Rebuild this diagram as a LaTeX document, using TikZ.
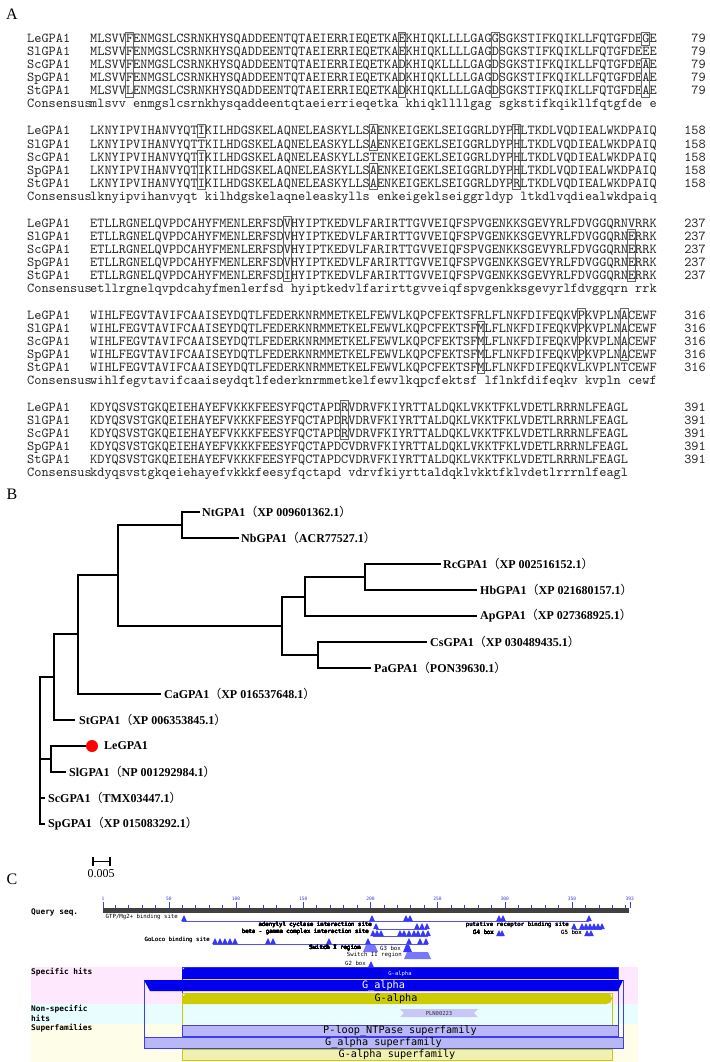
\documentclass[tikz,border=0pt]{standalone}
\usepackage{fontspec}
\setmainfont{Liberation Serif}
\newfontfamily\seqf{lmmono10-regular.otf}
\newfontfamily\cddf{DejaVu Sans Mono}
\newfontfamily\cjk{Noto Sans CJK SC}
\definecolor{pinkb}{RGB}{253,232,253}
\definecolor{cyanb}{RGB}{232,253,253}
\definecolor{yelb}{RGB}{253,253,232}
\definecolor{hitblue}{RGB}{0,0,238}
\definecolor{bfc}{RGB}{60,60,240}
\definecolor{lav}{RGB}{184,184,248}
\definecolor{oliv}{RGB}{204,204,0}
\definecolor{ltyel}{RGB}{240,240,176}
\definecolor{plnc}{RGB}{200,200,248}
\definecolor{trib}{RGB}{55,55,250}
\definecolor{regb}{RGB}{120,120,255}
\definecolor{ftline}{RGB}{80,80,255}
\newcommand\tl[2]{#1{\cjk\mdseries （}#2{\cjk\mdseries ）}}
\newcommand\arow[5]{%
  \node[seqtxt] (nm#1) at (27,{#2+4}) {#3};
  \node[seqtxt] (sq#1) at (90,{#2+4}) {#4};
  \node[numtxt] (nb#1) at (706,{#2+4}) {#5};}
\newcommand\crow[3]{%
  \node[seqtxt] (nm#1) at (27,{#2+4}) {Consensus};
  \node[seqtxt] (sq#1) at (90,{#2+4}) {#3};}
\newcommand\bx[4]{\draw[alnbox] ({90+(#2-1)*7.17-0.3},{#1+13*#3-6.5}) rectangle ({90+#2*7.17+0.3},{#1+13*#4+6.5});}
\newcommand\tri[2]{\fill[trib] ({#1-2.8},#2) -- (#1,{#2-6}) -- ({#1+2.8},#2) -- cycle;}
\newcommand\reg[3]{\fill[regb] (#1,#3) -- ({#1+3},{#3-7}) -- ({#2-3},{#3-7}) -- (#2,#3) -- cycle;}
\tikzset{
  seqtxt/.style={anchor=base west, inner sep=0pt, font={\seqf\fontsize{13.66pt}{13pt}\selectfont}, text=black!85},
  numtxt/.style={anchor=base east, inner sep=0pt, font={\seqf\fontsize{13.66pt}{13pt}\selectfont}, text=black!85},
  alnbox/.style={draw=black!60, line width=0.6pt},
  br/.style={line width=1.6pt, line join=miter},
  leaf/.style={anchor=west, inner sep=0pt, font={\bfseries\fontsize{12pt}{12pt}\selectfont}},
  plab/.style={inner sep=0pt, font={\fontsize{16pt}{16pt}\selectfont}},
  ft/.style={inner sep=0pt, anchor=east, font={\cddf\fontsize{5.7pt}{6pt}\selectfont}},
  lab/.style={inner sep=0pt, anchor=west, font={\cddf\bfseries\fontsize{7.8pt}{8pt}\selectfont}},
  rulnum/.style={inner sep=0pt, text=bfc, font={\cddf\fontsize{4.6pt}{5pt}\selectfont}},
  rul/.style={draw=bfc, line width=0.5pt},
  ftl/.style={draw=ftline, line width=0.7pt},
  barw/.style={inner sep=0pt, text=white, font={\cddf\fontsize{10.2pt}{10pt}\selectfont}},
  bark/.style={inner sep=0pt, text=black, font={\cddf\fontsize{10.2pt}{10pt}\selectfont}},
  tinyw/.style={inner sep=0pt, text=white, font={\cddf\fontsize{5.5pt}{6pt}\selectfont}},
  tinyk/.style={inner sep=0pt, text=black!80, font={\cddf\fontsize{5.5pt}{6pt}\selectfont}},
}
\begin{document}
\begin{tikzpicture}[x=1pt,y=-1pt]
\useasboundingbox (0,0) rectangle (709,1062);
\fill[white] (0,0) rectangle (709,1062);
% ---------------- Panel A
\node[plab] (pA) at (12,14) {A};
% block 1
\arow{1a}{39}{LeGPA1}{MLSVVFENMGSLCSRNKHYSQADDEENTQTAEIERRIEQETKAEKHIQKLLLLGAGGSGKSTIFKQIKLLFQTGFDEGE}{79}
\arow{1b}{52}{SlGPA1}{MLSVVFENMGSLCSRNKHYSQADDEENTQTAEIERRIEQETKAEKHIQKLLLLGAGDSGKSTIFKQIKLLFQTGFDEEE}{79}
\arow{1c}{65}{ScGPA1}{MLSVVFENMGSLCSRNKHYSQADDEENTQTAEIERRIEQETKADKHIQKLLLLGAGDSGKSTIFKQIKLLFQTGFDEAE}{79}
\arow{1d}{78}{SpGPA1}{MLSVVFENMGSLCSRNKHYSQADDEENTQTAEIERRIEQETKADKHIQKLLLLGAGDSGKSTIFKQIKLLFQTGFDEAE}{79}
\arow{1e}{91}{StGPA1}{MLSVVLENMGSLCSRNKHYSQADDEENTQTAEIERRIEQETKADKHIQKLLLLGAGDSGKSTIFKQIKLLFQTGFDEAE}{79}
\crow{1f}{104}{mlsvv enmgslcsrnkhysqaddeentqtaeierrieqetka khiqkllllgag sgkstifkqikllfqtgfde e}
\bx{39}{6}{0}{4}\bx{39}{44}{0}{4}\bx{39}{57}{0}{4}\bx{39}{78}{0}{0}\bx{39}{78}{2}{4}
% block 2
\arow{2a}{131}{LeGPA1}{LKNYIPVIHANVYQTIKILHDGSKELAQNELEASKYLLSAENKEIGEKLSEIGGRLDYPHLTKDLVQDIEALWKDPAIQ}{158}
\arow{2b}{144}{SlGPA1}{LKNYIPVIHANVYQTTKILHDGSKELAQNELEASKYLLSAENKEIGEKLSEIGGRLDYPHLTKDLVQDIEALWKDPAIQ}{158}
\arow{2c}{157}{ScGPA1}{LKNYIPVIHANVYQTIKILHDGSKELAQNELEASKYLLSTENKEIGEKLSEIGGRLDYPHLTKDLVQDIEALWKDPAIQ}{158}
\arow{2d}{170}{SpGPA1}{LKNYIPVIHANVYQTIKILHDGSKELAQNELEASKYLLSAENKEIGEKLSEIGGRLDYPHLTKDLVQDIEALWKDPAIQ}{158}
\arow{2e}{183}{StGPA1}{LKNYIPVIHANVYQTIKILHDGSKELAQNELEASKYLLSAENKEIGEKLSEIGGRLDYPRLTKDLVQDIEALWKDPAIQ}{158}
\crow{2f}{196}{lknyipvihanvyqt kilhdgskelaqneleaskylls enkeigeklseiggrldyp ltkdlvqdiealwkdpaiq}
\bx{131}{16}{0}{0}\bx{131}{16}{2}{4}\bx{131}{40}{0}{1}\bx{131}{40}{3}{4}\bx{131}{60}{0}{4}
% block 3
\arow{3a}{223}{LeGPA1}{ETLLRGNELQVPDCAHYFMENLERFSDVHYIPTKEDVLFARIRTTGVVEIQFSPVGENKKSGEVYRLFDVGGQRNVRRK}{237}
\arow{3b}{236}{SlGPA1}{ETLLRGNELQVPDCAHYFMENLERFSDVHYIPTKEDVLFARIRTTGVVEIQFSPVGENKKSGEVYRLFDVGGQRNERRK}{237}
\arow{3c}{249}{ScGPA1}{ETLLRGNELQVPDCAHYFMENLERFSDVHYIPTKEDVLFARIRTTGVVEIQFSPVGENKKSGEVYRLFDVGGQRNERRK}{237}
\arow{3d}{262}{SpGPA1}{ETLLRGNELQVPDCAHYFMENLERFSDVHYIPTKEDVLFARIRTTGVVEIQFSPVGENKKSGEVYRLFDVGGQRNERRK}{237}
\arow{3e}{275}{StGPA1}{ETLLRGNELQVPDCAHYFMENLERFSDIHYIPTKEDVLFARIRTTGVVEIQFSPVGENKKSGEVYRLFDVGGQRNERRK}{237}
\crow{3f}{288}{etllrgnelqvpdcahyfmenlerfsd hyiptkedvlfarirttgvveiqfspvgenkksgevyrlfdvggqrn rrk}
\bx{223}{28}{0}{4}\bx{223}{76}{1}{4}
% block 4
\arow{4a}{315}{LeGPA1}{WIHLFEGVTAVIFCAAISEYDQTLFEDERKNRMMETKELFEWVLKQPCFEKTSFRLFLNKFDIFEQKVPKVPLNACEWF}{316}
\arow{4b}{328}{SlGPA1}{WIHLFEGVTAVIFCAAISEYDQTLFEDERKNRMMETKELFEWVLKQPCFEKTSFMLFLNKFDIFEQKVPKVPLNACEWF}{316}
\arow{4c}{341}{ScGPA1}{WIHLFEGVTAVIFCAAISEYDQTLFEDERKNRMMETKELFEWVLKQPCFEKTSFMLFLNKFDIFEQKVPKVPLNACEWF}{316}
\arow{4d}{354}{SpGPA1}{WIHLFEGVTAVIFCAAISEYDQTLFEDERKNRMMETKELFEWVLKQPCFEKTSFMLFLNKFDIFEQKVPKVPLNACEWF}{316}
\arow{4e}{367}{StGPA1}{WIHLFEGVTAVIFCAAISEYDQTLFEDERKNRMMETKELFEWVLKQPCFEKTSFMLFLNKFDIFEQKVLKVPLNTCEWF}{316}
\crow{4f}{380}{wihlfegvtavifcaaiseydqtlfederknrmmetkelfewvlkqpcfektsf lflnkfdifeqkv kvpln cewf}
\bx{315}{55}{1}{4}\bx{315}{69}{0}{3}\bx{315}{75}{0}{3}
% block 5
\arow{5a}{407}{LeGPA1}{KDYQSVSTGKQEIEHAYEFVKKKFEESYFQCTAPDRVDRVFKIYRTTALDQKLVKKTFKLVDETLRRRNLFEAGL}{391}
\arow{5b}{420}{SlGPA1}{KDYQSVSTGKQEIEHAYEFVKKKFEESYFQCTAPDRVDRVFKIYRTTALDQKLVKKTFKLVDETLRRRNLFEAGL}{391}
\arow{5c}{433}{ScGPA1}{KDYQSVSTGKQEIEHAYEFVKKKFEESYFQCTAPDRVDRVFKIYRTTALDQKLVKKTFKLVDETLRRRNLFEAGL}{391}
\arow{5d}{446}{SpGPA1}{KDYQSVSTGKQEIEHAYEFVKKKFEESYFQCTAPDCVDRVFKIYRTTALDQKLVKKTFKLVDETLRRRNLFEAGL}{391}
\arow{5e}{459}{StGPA1}{KDYQSVSTGKQEIEHAYEFVKKKFEESYFQCTAPDCVDRVFKIYRTTALDQKLVKKTFKLVDETLRRRNLFEAGL}{391}
\crow{5f}{472}{kdyqsvstgkqeiehayefvkkkfeesyfqctapd vdrvfkiyrttaldqklvkktfklvdetlrrrnlfeagl}
\bx{407}{36}{0}{2}
% ---------------- Panel B
\node[plab] (pB) at (12,494) {B};
\coordinate (nNtNb) at (182,525);
\coordinate (nRcHb) at (365,577);
\coordinate (nRHA) at (305,597);
\coordinate (nCsPa) at (318,655);
\coordinate (nBig) at (282,626);
\coordinate (nA) at (118,575);
\coordinate (nB) at (78,634);
\coordinate (nC) at (54,677);
\coordinate (nLeSl) at (51,759);
\coordinate (nD) at (40,750);
\coordinate (eNt) at (200,512);
\coordinate (eNb) at (239,538);
\coordinate (eRc) at (441,564);
\coordinate (eHb) at (477,590);
\coordinate (eAp) at (477,616);
\coordinate (eCs) at (427,642);
\coordinate (ePa) at (371,668);
\coordinate (eCa) at (161,694);
\coordinate (eSt) at (75,720);
\coordinate (eSl) at (66,772);
\coordinate (eSc) at (45,798);
\coordinate (eSp) at (45,824);
\node[circle, fill=red, inner sep=0pt, minimum size=12pt] (dLe) at (92,746) {};
\node[leaf] (lNt) at (202,512) {\tl{NtGPA1}{XP 009601362.1}};
\node[leaf] (lNb) at (241,538) {\tl{NbGPA1}{ACR77527.1}};
\node[leaf] (lRc) at (443,564) {\tl{RcGPA1}{XP 002516152.1}};
\node[leaf] (lHb) at (480,590) {\tl{HbGPA1}{XP 021680157.1}};
\node[leaf] (lAp) at (480,616) {\tl{ApGPA1}{XP 027368925.1}};
\node[leaf] (lCs) at (430,642) {\tl{CsGPA1}{XP 030489435.1}};
\node[leaf] (lPa) at (374,668) {\tl{PaGPA1}{PON39630.1}};
\node[leaf] (lCa) at (164,694) {\tl{CaGPA1}{XP 016537648.1}};
\node[leaf] (lSt) at (79,720) {\tl{StGPA1}{XP 006353845.1}};
\node[leaf] (lLe) at (104,746) {LeGPA1};
\node[leaf] (lSl) at (69,772) {\tl{SlGPA1}{NP 001292984.1}};
\node[leaf] (lSc) at (48,798) {\tl{ScGPA1}{TMX03447.1}};
\node[leaf] (lSp) at (48,824) {\tl{SpGPA1}{XP 015083292.1}};
\draw[br] (nNtNb) |- (eNt);
\draw[br] (nNtNb) |- (eNb);
\draw[br] (nRcHb) |- (eRc);
\draw[br] (nRcHb) |- (eHb);
\draw[br] (nRHA) |- (nRcHb);
\draw[br] (nRHA) |- (eAp);
\draw[br] (nCsPa) |- (eCs);
\draw[br] (nCsPa) |- (ePa);
\draw[br] (nBig) |- (nRHA);
\draw[br] (nBig) |- (nCsPa);
\draw[br] (nA) |- (nNtNb);
\draw[br] (nA) |- (nBig);
\draw[br] (nB) |- (nA);
\draw[br] (nB) |- (eCa);
\draw[br] (nC) |- (nB);
\draw[br] (nC) |- (eSt);
\draw[br] (nLeSl) |- (dLe.west);
\draw[br] (nLeSl) |- (eSl);
\draw[br] (nD) |- (nC);
\draw[br] (nD) |- (nLeSl);
\draw[br] (nD) |- (eSc);
\draw[br] (nD) |- (eSp);
% scale bar
\coordinate (sbL) at (93,861.5);
\coordinate (sbR) at (110,861.5);
\draw[line width=1.4pt] (sbL) -- (sbR);
\draw[line width=1.4pt] ([yshift=4.5pt]sbL) -- ([yshift=-4.5pt]sbL);
\draw[line width=1.4pt] ([yshift=4.5pt]sbR) -- ([yshift=-4.5pt]sbR);
\node[inner sep=0pt, font={\fontsize{12pt}{12pt}\selectfont}] (sbT) at (101,874) {0.005};
% ---------------- Panel C
\node[plab] (pC) at (12,879) {C};
\node[lab] (qs) at (31,912) {Query seq.};
\fill[black!75] (103,908) rectangle (629.3,913);
\foreach \u in {10,20,...,390} \draw[rul] ({103+(\u-1)*1.3438},904.5) -- ++(0,3.5);
\foreach \u in {1,50,100,150,200,250,300,350,393} {
  \draw[rul] ({103+(\u-1)*1.3438},902) -- ++(0,6);
  \node[rulnum] (r\u) at ({103+(\u-1)*1.3438},898.5) {\u};
}
% row 1
\node[ft] (fGTP) at (178,917) {GTP/Mg2+ binding site};
\draw[ftl] (182,921) -- (589,921);
\foreach \p in {184,372,406,410,499,503,589} \tri{\p}{921}
% row 2
\node[ft] (fAC) at (372,925) {adenylyl cyclase interaction site};
\draw[ftl] (376,929) -- (427,929);
\foreach \p in {376,417,422,427} \tri{\p}{929}
\node[ft] (fPR) at (569,925) {putative receptor binding site};
\draw[ftl] (574,929) -- (602,929);
\foreach \p in {574,582,586,590,594,598,602} \tri{\p}{929}
% row 3
\node[ft] (fBG) at (369,932) {beta - gamma complex interaction site};
\draw[ftl] (373,936) -- (428,936);
\foreach \p in {373,377,381,400,404,409,414,418,423,428} \tri{\p}{936}
\node[ft] (fG4) at (494,932) {G4 box};
\foreach \p in {499,502} \tri{\p}{936}
\node[ft] (fG5) at (582,932) {G5 box};
\foreach \p in {587,591} \tri{\p}{936}
% row 4
\node[ft] (fGL) at (210,940) {GoLoco binding site};
\draw[ftl] (213,944) -- (428,944);
\foreach \p in {215,220,225,230,235,268,273,329,368,409,420,426} \tri{\p}{944}
% row 5-7
\node[ft] (fS1) at (361,948) {Switch I region};
\reg{363}{378}{952}
\node[ft] (fG3) at (401,948) {G3 box};
\fill[trib] (403,952) -- (406,945) -- (409,945) -- (412,952) -- cycle;
\node[ft] (fS2) at (402,955) {Switch II region};
\reg{404}{431}{959}
\node[ft] (fG2) at (366,963) {G2 box};
\tri{371}{967}
% bands
\fill[pinkb] (31,967) rectangle (638,1004);
\fill[cyanb] (31,1004) rectangle (638,1024);
\fill[yelb] (31,1024) rectangle (638,1062);
\node[lab] (hS) at (31,972) {Specific hits};
\node[lab] (hN1) at (31,1009) {Non-specific};
\node[lab] (hN2) at (31,1018) {hits};
\node[lab] (hSF) at (31,1028) {Superfamilies};
% frames
\draw[draw=bfc, line width=0.7pt] (182,967) rectangle (618,1036);
\draw[draw=bfc, line width=0.7pt] (144,980) rectangle (623,1048);
\draw[draw=oliv, line width=0.7pt] (182,993) rectangle (612,1060);
% bars
\fill[hitblue] (182,970.5) -- (185,967.5) -- (618,967.5) -- (618,979) -- (182,979) -- cycle;
\node[tinyw] (hG1) at (400,973.5) {G-alpha};
\fill[hitblue] (144,980) -- (623,980) -- (618,991) -- (150,991) -- cycle;
\node[barw, anchor=base] (hG2) at (383.5,988.5) {G\_alpha};
\fill[oliv] (182,998) -- (186,993) [rounded corners=5.5pt] -- (612,993) -- (612,1004) [sharp corners] -- (182,1004) -- cycle;
\node[bark] (hG3) at (396,998.5) {G-alpha};
\fill[plnc] (400,1009) -- (478,1009) -- (474,1013) -- (478,1017) -- (400,1017) -- (404,1013) -- cycle;
\node[tinyk] (hPLN) at (439,1013) {PLN00223};
\filldraw[fill=lav, draw=bfc, line width=0.7pt] (182,1025) rectangle (618,1036);
\node[bark, anchor=base] (sf1) at (400,1033.5) {P-loop\_NTPase superfamily};
\filldraw[fill=lav, draw=bfc, line width=0.7pt] (144,1037) rectangle (623,1048);
\node[bark, anchor=base] (sf2) at (383.5,1045.5) {G\_alpha superfamily};
\filldraw[fill=ltyel, draw=oliv, line width=0.7pt] (182,1049) rectangle (612,1060);
\node[bark, anchor=base] (sf3) at (397,1057.5) {G-alpha superfamily};
\end{tikzpicture}
\end{document}
